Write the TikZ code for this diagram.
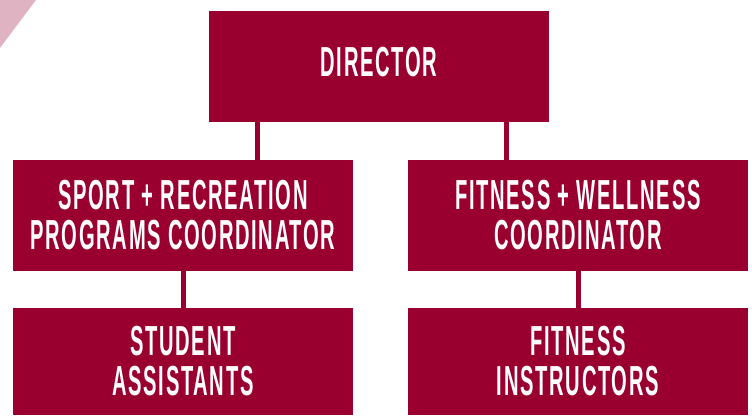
\documentclass[tikz,border=0pt]{standalone}
\usepackage{fontspec}
\newfontfamily\boxfont{Liberation Sans}[FakeStretch=0.48,LetterSpace=4]
\definecolor{crimson}{HTML}{990030}
\definecolor{blush}{HTML}{E0B3C2}
\begin{document}
\begin{tikzpicture}[x=1pt,y=1pt,
  post/.style={fill=crimson, text=white, inner sep=0pt, minimum width=340pt,
    minimum height=111pt, align=center,
    font=\boxfont\bfseries\fontsize{42}{40}\selectfont},
  link/.style={draw=crimson, line width=5pt}]
\useasboundingbox (0,0) rectangle (752,415);
\fill[blush] (0,415) -- (36,415) -- (0,367) -- cycle;
\node[post, text depth=10pt] (director) at (379,348.5) {DIRECTOR};
\node[post] (sportco) at (183,199.5) {SPORT + RECREATION\\PROGRAMS COORDINATOR};
\node[post] (fitco) at (578,199.5) {FITNESS + WELLNESS\\COORDINATOR};
\node[post, minimum height=107pt] (students) at (183,53.5) {STUDENT\\ASSISTANTS};
\node[post, minimum height=107pt] (instructors) at (578,53.5) {FITNESS\\INSTRUCTORS};
\coordinate (splitL) at (257,0);
\coordinate (splitR) at (506,0);
\draw[link] (director.south -| splitL) -- (sportco.north -| splitL);
\draw[link] (director.south -| splitR) -- (fitco.north -| splitR);
\draw[link] (sportco.south) -- (students.north);
\draw[link] (fitco.south) -- (instructors.north);
\end{tikzpicture}
\end{document}
